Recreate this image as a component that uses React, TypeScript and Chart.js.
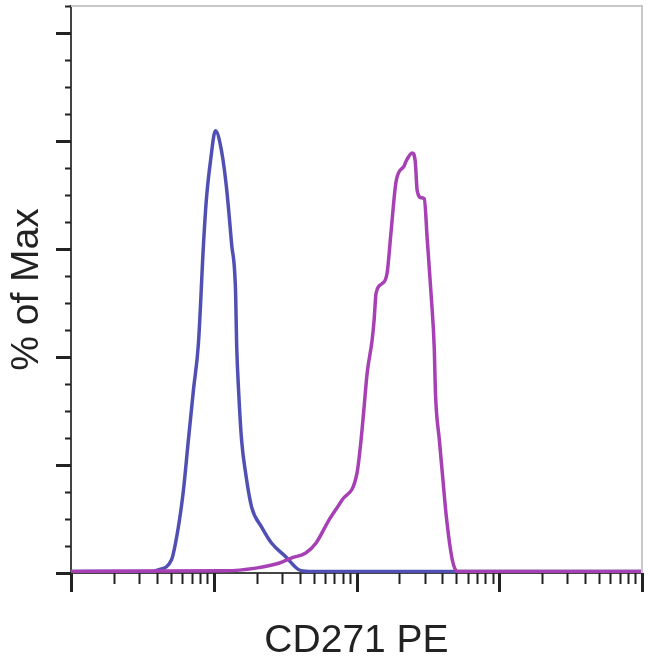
import { useEffect, useRef } from "react";
import { Chart, registerables } from "chart.js";

Chart.register(...registerables);

// Blue histogram (control)
const blueX = [10, 37.7, 40.9, 50.5, 56.5, 61.3, 66.4, 72, 78.1, 84.8, 89, 94.9, 102.8, 113.3, 122.9, 133.3, 142.3, 144.6, 149.3, 156.7, 167.2, 184.2, 216.5, 254.7, 319.4, 394.5, 463.6, 100000];
const blueY = [0.3, 0.3, 0.6, 2.4, 8.5, 15.3, 24.6, 33.8, 42.5, 61, 69.5, 76.3, 81.9, 78.2, 71.3, 61, 51.8, 42.5, 33.8, 24.6, 18.5, 12.2, 8.5, 5.5, 3.0, 0.6, 0.3, 0.3];

// Magenta histogram (CD271 PE)
const magX = [10, 121, 196.7, 285, 352, 441, 519, 641, 791, 1008, 1076, 1130, 1187, 1286, 1328, 1371, 1510, 1637, 1749, 1896, 2158, 2228, 2455, 2577, 2662, 2840, 2983, 3133, 3343, 3510, 3567, 3806, 3993, 4261, 4693, 5091, 100000];
const magY = [0.3, 0.4, 0.9, 1.8, 2.8, 3.7, 5.5, 9.8, 13.5, 18.5, 24.6, 30.7, 37.0, 43.1, 46.8, 51.8, 53.6, 55.5, 63.4, 72.6, 75.4, 76.3, 77.8, 76.3, 70.8, 69.5, 69.3, 61.6, 51.0, 41.2, 33.8, 24.6, 18.5, 10.4, 2.4, 0.3, 0.3];

// Axis tick values
const xMajorTicks = [10, 100, 1000, 10000, 100000];
const xMinorTicks = [10, 100, 1000, 10000].flatMap((d) => [2, 3, 4, 5, 6, 7, 8, 9].map((m) => m * d));
const yMajorTicks = [0, 20, 40, 60, 80, 100];
const yMinorTicks = [5, 10, 15, 25, 30, 35, 45, 50, 55, 65, 70, 75, 85, 90, 95, 105];

const xTitle = "CD271 PE";
const yTitle = "% of Max";

const FONT = "'Liberation Sans', Arial, sans-serif";

const frameTicks = {
  id: "frameTicks",
  afterDraw(chart: any) {
    const { ctx, chartArea: a, scales } = chart;
    const xs = scales.x;
    const ys = scales.y;
    ctx.save();
    ctx.strokeStyle = "#c8c8c8";
    ctx.lineWidth = 2;
    ctx.beginPath();
    ctx.moveTo(a.left, a.top);
    ctx.lineTo(a.right, a.top);
    ctx.lineTo(a.right, a.bottom);
    ctx.stroke();

    ctx.strokeStyle = "#222";
    const drawX = (vals: number[], len: number, w: number) => {
      ctx.lineWidth = w;
      ctx.beginPath();
      vals.forEach((v) => {
        const p = Math.round(xs.getPixelForValue(v)) + 0.5;
        ctx.moveTo(p, a.bottom);
        ctx.lineTo(p, a.bottom + len);
      });
      ctx.stroke();
    };
    const drawY = (vals: number[], len: number, w: number) => {
      ctx.lineWidth = w;
      ctx.beginPath();
      vals.forEach((v) => {
        const p = Math.round(ys.getPixelForValue(v)) + 0.5;
        ctx.moveTo(a.left, p);
        ctx.lineTo(a.left - len, p);
      });
      ctx.stroke();
    };
    drawX(xMinorTicks, 11, 2);
    drawX(xMajorTicks, 19, 3);
    drawY(yMinorTicks, 6, 2);
    drawY(yMajorTicks, 15, 3);
    ctx.restore();
  },
};

export default function App() {
  const ref = useRef<HTMLCanvasElement>(null);
  useEffect(() => {
    const chart = new Chart(ref.current as HTMLCanvasElement, {
      type: "line",
      data: {
        datasets: [
          {
            label: "CD271 PE",
            data: magX.map((x, i) => ({ x, y: magY[i] })),
            borderColor: "#a640b4",
            borderWidth: 3.5,
            pointRadius: 0,
            cubicInterpolationMode: "monotone",
            fill: false,
          },
          {
            label: "Control",
            data: blueX.map((x, i) => ({ x, y: blueY[i] })),
            borderColor: "#5050b4",
            borderWidth: 3.5,
            pointRadius: 0,
            cubicInterpolationMode: "monotone",
            fill: false,
          },
        ],
      },
      options: {
        animation: false,
        responsive: false,
        layout: { padding: { top: 6, right: 8, left: 0, bottom: 0 } },
        plugins: { legend: { display: false }, tooltip: { enabled: false } },
        scales: {
          x: {
            type: "logarithmic",
            min: 10,
            max: 100000,
            ticks: { display: false },
            grid: { display: false },
            border: { display: true, color: "#444", width: 2 },
            title: {
              display: true,
              text: xTitle,
              color: "#222",
              font: { family: FONT, size: 39, lineHeight: 1 },
              padding: { top: 0, bottom: 2 },
            },
            afterFit: (s: any) => {
              s.height = 90;
            },
          },
          y: {
            type: "linear",
            min: 0,
            max: 105,
            ticks: { display: false },
            grid: { display: false },
            border: { display: true, color: "#444", width: 2 },
            title: {
              display: true,
              text: yTitle,
              color: "#222",
              font: { family: FONT, size: 39, lineHeight: 1 },
              padding: { top: 8, bottom: 0 },
            },
            afterFit: (s: any) => {
              s.width = 71;
            },
          },
        },
      },
      plugins: [frameTicks],
    } as any);
    return () => chart.destroy();
  }, []);
  return (
    <div style={{ position: "fixed", left: 0, top: 0, width: 650, height: 663, background: "#fff" }}>
      <canvas ref={ref} width={650} height={663} style={{ display: "block" }} />
    </div>
  );
}
